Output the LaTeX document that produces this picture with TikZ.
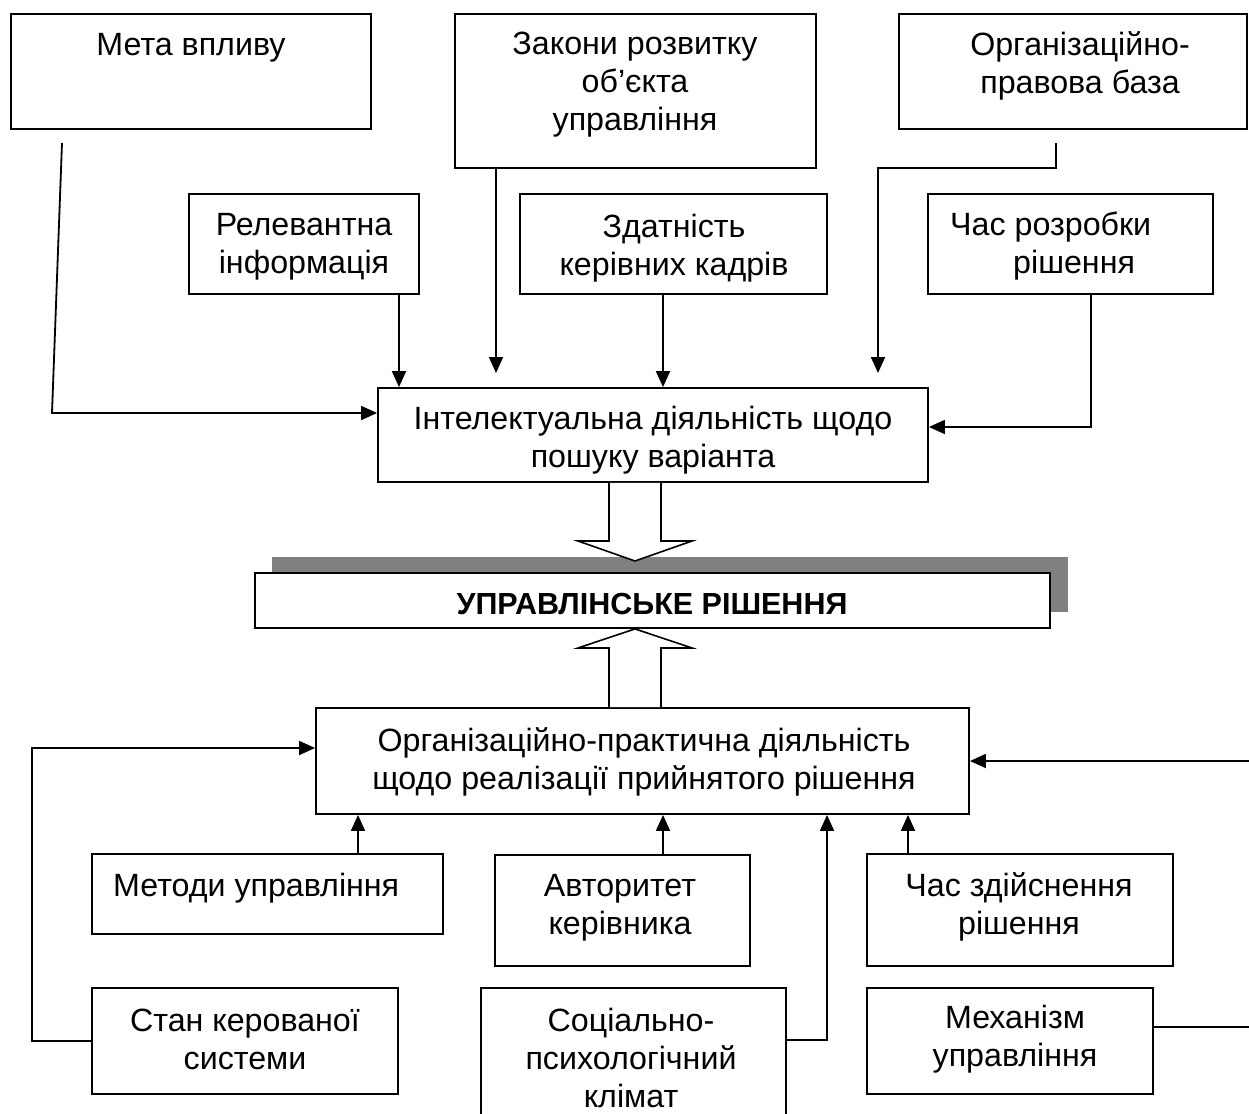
\documentclass[tikz,border=0pt]{standalone}
\usepackage{fontspec}
\setmainfont{Liberation Sans}
\usetikzlibrary{arrows.meta}
\begin{document}
\begin{tikzpicture}[x=1pt,y=-1pt,
  box/.style={draw=black,line width=1.8pt,fill=white,inner sep=0pt},
  txt/.style={inner sep=0pt,align=center,font=\fontsize{32.2}{38}\selectfont},
  conn/.style={line width=1.8pt},
  arr/.style={conn,-{Triangle[length=16pt,width=14pt]}},
  hollow/.style={draw=black,line width=1.6pt,fill=white,line join=miter}
]
\useasboundingbox (0,0) rectangle (1249,1113);
\fill[white] (0,0) rectangle (1249,1113);
\begin{scope}
\clip (0,0) rectangle (1249,1113);

% upper factor boxes
\node[box,minimum width=360pt,minimum height=115pt] (meta) at (191,71.5) {};
\node[txt] (meta-t) at (191,48) {Мета впливу};
\node[box,minimum width=361pt,minimum height=154pt] (zakony) at (635.5,91) {};
\node[txt] (zakony-t) at (635,85) {Закони розвитку\\об’єкта\\управління};
\node[box,minimum width=348pt,minimum height=115pt] (orgbase) at (1073,71.5) {};
\node[txt] (orgbase-t) at (1080,66) {Організаційно-\\правова база};
\node[box,minimum width=230pt,minimum height=100pt] (relev) at (304,244) {};
\node[txt] (relev-t) at (304,247) {Релевантна\\інформація};
\node[box,minimum width=307pt,minimum height=100pt] (zdat) at (673.5,244) {};
\node[txt] (zdat-t) at (674,248) {Здатність\\керівних кадрів};
\node[box,minimum width=285pt,minimum height=100pt] (chasr) at (1070.5,244) {};
\node[txt,align=left,anchor=west] (chasr-t) at (950,246) {Час розробки\\\hspace*{63pt}рішення};

% intellectual activity
\node[box,minimum width=550pt,minimum height=94pt] (intel) at (653,435) {};
\node[txt] (intel-t) at (653,440) {Інтелектуальна діяльність щодо\\пошуку варіанта};

% decision block with offset shadow
\fill[black!50] (272,557) rectangle (1068,612);
\node[box,minimum width=795pt,minimum height=55pt] (decis) at (652.5,600.5) {};
\node[txt,font=\fontsize{30.5}{37.5}\selectfont\bfseries] (decis-t) at (652,604) {УПРАВЛІНСЬКЕ РІШЕННЯ};

% organisational-practical activity
\node[box,minimum width=653pt,minimum height=106pt] (orgprac) at (642.5,761) {};
\node[txt] (orgprac-t) at (644,762) {Організаційно-практична діяльність\\щодо реалізації прийнятого рішення};

% lower factor boxes
\node[box,minimum width=351pt,minimum height=80pt] (metody) at (267.5,894) {};
\node[txt,anchor=west] (metody-t) at (113,888) {Методи управління};
\node[box,minimum width=255pt,minimum height=111pt] (avtor) at (622.5,910.5) {};
\node[txt] (avtor-t) at (620,908) {Авторитет\\керівника};
\node[box,minimum width=306pt,minimum height=112pt] (chasz) at (1020,910) {};
\node[txt] (chasz-t) at (1019,907) {Час здійснення\\рішення};
\node[box,minimum width=306pt,minimum height=106pt] (stan) at (245,1041) {};
\node[txt] (stan-t) at (245,1039) {Стан керованої\\системи};
\node[box,minimum width=305pt,minimum height=137pt] (soc) at (633.5,1056.5) {};
\node[txt] (soc-t) at (631,1058) {Соціально-\\психологічний\\клімат};
\node[box,minimum width=286pt,minimum height=106pt] (mekh) at (1010,1041) {};
\node[txt] (mekh-t) at (1015,1039) {Механізм\\управління};

% connectors into the intellectual activity
\coordinate (m1) at (62,143);
\coordinate (m2) at (52,413);
\draw[arr] (m1) -- (m2) -- (m2 -| intel.west);
\coordinate (rx) at (399,0);
\draw[arr] (relev.south -| rx) -- (intel.north -| rx);
\coordinate (zx) at (496,373);
\draw[arr] (zakony.south -| zx) -- (zx);
\coordinate (dx) at (663,0);
\draw[arr] (zdat.south -| dx) -- (intel.north -| dx);
\coordinate (o1) at (1056,143);
\coordinate (o2) at (878,373);
\draw[arr] (o1) -- (1056,168) -| (o2);
\coordinate (cx) at (1091,427);
\draw[arr] (chasr.south -| cx) -- (cx) -- (cx -| intel.east);

% hollow arrows to and from the decision
\draw[hollow] (intel.south -| 609,0) -- (609,541) -- (578,541) -- (635,561) -- (692,541) -- (661,541) -- (intel.south -| 661,0);
\draw[hollow] (orgprac.north -| 609,0) -- (609,648) -- (578,648) -- (decis.south -| 635,0) -- (692,648) -- (661,648) -- (orgprac.north -| 661,0);

% connectors into the organisational-practical activity
\coordinate (s1) at (32,748);
\draw[arr] (stan.west) -| (s1) -- (s1 -| orgprac.west);
\coordinate (mx) at (358,0);
\draw[arr] (metody.north -| mx) -- (orgprac.south -| mx);
\coordinate (ax) at (663,0);
\draw[arr] (avtor.north -| ax) -- (orgprac.south -| ax);
\coordinate (sx) at (827,1040);
\draw[arr] (soc.east |- sx) -- (sx) -- (sx |- orgprac.south);
\coordinate (hx) at (908,0);
\draw[arr] (chasz.north -| hx) -- (orgprac.south -| hx);
\coordinate (k1) at (1262,1027);
\coordinate (k2) at (1262,761);
\draw[arr] (mekh.east |- k1) -- (k1) -- (k2) -- (k2 -| orgprac.east);
\end{scope}
\end{tikzpicture}
\end{document}
